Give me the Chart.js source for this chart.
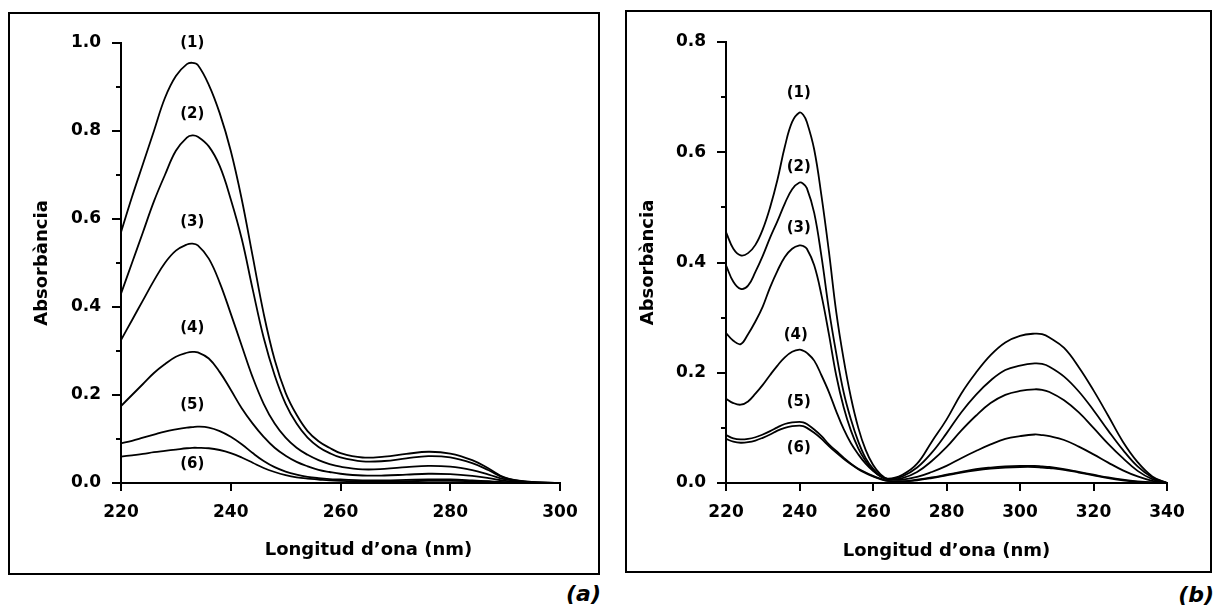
<!DOCTYPE html>
<html>
<head>
<meta charset="utf-8">
<title>Absorbància</title>
<script src="https://cdn.jsdelivr.net/npm/chart.js@4.4.1/dist/chart.umd.min.js"></script>
<style>
    body { margin: 0; background: #fff; width: 1217px; height: 607px; position: relative; overflow: hidden; }
    .panel { position: absolute; box-sizing: border-box; border: 2px solid #000; }
    .panel canvas { display: block; }
    .tag { position: absolute; width: 60px; text-align: right; font: italic bold 22px "DejaVu Sans", sans-serif; line-height: 24px; color: #000; }
</style>
</head>
<body>
<div class="panel" style="left:8px;top:12px;width:592px;height:563px"><canvas id="chartA" width="588" height="559"></canvas></div>
<div class="tag" style="left:541px;top:582px">(a)</div>
<div class="panel" style="left:625px;top:10px;width:587px;height:563px"><canvas id="chartB" width="583" height="559"></canvas></div>
<div class="tag" style="left:1154px;top:583px">(b)</div>

<script>
// Spectrum (a): wavelength grid in nm and absorbance of each curve
const nmA = [220, 222, 224, 226, 228, 230, 232, 233, 234, 236, 238, 240, 242, 244, 246, 248, 250, 252, 254, 256, 258, 260, 264, 268, 272, 276, 280, 284, 287, 290, 294, 300];
const a1 = [0.57, 0.65, 0.725, 0.80, 0.875, 0.925, 0.952, 0.955, 0.95, 0.905, 0.84, 0.755, 0.645, 0.515, 0.385, 0.28, 0.205, 0.155, 0.118, 0.095, 0.08, 0.068, 0.058, 0.06, 0.066, 0.071, 0.067, 0.052, 0.033, 0.012, 0.003, 0];
const a2 = [0.43, 0.50, 0.57, 0.64, 0.70, 0.755, 0.785, 0.79, 0.787, 0.765, 0.72, 0.645, 0.555, 0.44, 0.33, 0.245, 0.18, 0.135, 0.103, 0.082, 0.068, 0.058, 0.049, 0.05, 0.056, 0.061, 0.058, 0.045, 0.029, 0.011, 0.003, 0];
const a3 = [0.325, 0.37, 0.415, 0.46, 0.50, 0.528, 0.542, 0.544, 0.54, 0.51, 0.455, 0.385, 0.312, 0.24, 0.18, 0.135, 0.103, 0.08, 0.064, 0.052, 0.043, 0.037, 0.031, 0.032, 0.036, 0.039, 0.037, 0.029, 0.019, 0.008, 0.002, 0];
const a4 = [0.175, 0.20, 0.225, 0.25, 0.27, 0.287, 0.296, 0.298, 0.297, 0.283, 0.252, 0.212, 0.17, 0.135, 0.105, 0.08, 0.062, 0.048, 0.038, 0.03, 0.025, 0.021, 0.017, 0.017, 0.019, 0.021, 0.02, 0.016, 0.011, 0.005, 0.001, 0];
const a5 = [0.09, 0.096, 0.103, 0.11, 0.117, 0.122, 0.126, 0.127, 0.128, 0.126, 0.118, 0.105, 0.088, 0.068, 0.05, 0.036, 0.026, 0.019, 0.014, 0.011, 0.009, 0.008, 0.006, 0.006, 0.007, 0.008, 0.008, 0.006, 0.004, 0.002, 0.001, 0];
const a6 = [0.06, 0.063, 0.066, 0.07, 0.073, 0.076, 0.079, 0.08, 0.08, 0.079, 0.075, 0.068, 0.058, 0.046, 0.034, 0.025, 0.018, 0.013, 0.01, 0.008, 0.006, 0.005, 0.004, 0.004, 0.004, 0.005, 0.005, 0.004, 0.003, 0.001, 0, 0];

// Spectrum (b)
const nmB = [220, 222, 224, 226, 228, 230, 232, 234, 236, 238, 240, 241, 242, 244, 246, 248, 250, 252, 254, 256, 258, 260, 262, 264, 268, 272, 276, 280, 284, 288, 292, 296, 300, 304, 306, 308, 312, 316, 320, 324, 328, 332, 336, 340];
const b1 = [0.455, 0.425, 0.413, 0.417, 0.432, 0.46, 0.50, 0.55, 0.61, 0.655, 0.672, 0.668, 0.655, 0.605, 0.52, 0.42, 0.31, 0.225, 0.155, 0.1, 0.06, 0.033, 0.016, 0.008, 0.015, 0.035, 0.075, 0.115, 0.162, 0.2, 0.232, 0.255, 0.267, 0.271, 0.27, 0.264, 0.245, 0.21, 0.168, 0.122, 0.075, 0.038, 0.012, 0];
const b2 = [0.395, 0.365, 0.352, 0.358, 0.383, 0.412, 0.445, 0.475, 0.507, 0.533, 0.545, 0.543, 0.535, 0.49, 0.41, 0.315, 0.235, 0.165, 0.115, 0.075, 0.045, 0.026, 0.013, 0.007, 0.012, 0.028, 0.055, 0.09, 0.128, 0.16, 0.186, 0.205, 0.213, 0.217, 0.216, 0.211, 0.193, 0.166, 0.132, 0.095, 0.06, 0.03, 0.01, 0];
const b3 = [0.272, 0.258, 0.252, 0.27, 0.293, 0.32, 0.355, 0.385, 0.41, 0.425, 0.431, 0.43, 0.425, 0.395, 0.34, 0.27, 0.195, 0.138, 0.095, 0.063, 0.04, 0.023, 0.012, 0.007, 0.009, 0.02, 0.04, 0.065, 0.095, 0.122, 0.145, 0.16, 0.167, 0.17, 0.169, 0.165, 0.15, 0.128, 0.1, 0.071, 0.045, 0.022, 0.007, 0];
const b4 = [0.153, 0.145, 0.142, 0.148, 0.162, 0.178, 0.196, 0.213, 0.228, 0.238, 0.242, 0.24, 0.236, 0.222, 0.195, 0.165, 0.13, 0.098, 0.072, 0.052, 0.035, 0.022, 0.013, 0.007, 0.006, 0.011, 0.02, 0.031, 0.045, 0.058, 0.07, 0.08, 0.085, 0.088, 0.087, 0.085, 0.078, 0.066, 0.052, 0.037, 0.023, 0.012, 0.004, 0];
const b5 = [0.087, 0.081, 0.079, 0.08, 0.083, 0.088, 0.094, 0.101, 0.107, 0.11, 0.111, 0.11, 0.107, 0.097, 0.085, 0.07, 0.058, 0.046, 0.035, 0.026, 0.019, 0.013, 0.008, 0.004, 0.003, 0.006, 0.01, 0.015, 0.02, 0.025, 0.028, 0.03, 0.031, 0.031, 0.03, 0.029, 0.025, 0.02, 0.015, 0.01, 0.006, 0.003, 0.001, 0];
const b6 = [0.08, 0.075, 0.073, 0.074, 0.077, 0.082, 0.088, 0.095, 0.1, 0.103, 0.104, 0.103, 0.1, 0.091, 0.08, 0.067, 0.055, 0.044, 0.034, 0.025, 0.018, 0.012, 0.007, 0.004, 0.003, 0.005, 0.009, 0.014, 0.019, 0.023, 0.026, 0.028, 0.029, 0.029, 0.028, 0.027, 0.024, 0.019, 0.014, 0.009, 0.005, 0.002, 0.001, 0];

// Curve numbers and where they sit (nm, absorbance)
const curveTags = ['(1)', '(2)', '(3)', '(4)', '(5)', '(6)'];
const tagNmA = [233, 233, 233, 233, 233, 233];
const tagAbsA = [1.0, 0.838, 0.593, 0.353, 0.178, 0.043];
const tagNmB = [239.8, 239.8, 239.8, 239.0, 239.8, 239.8];
const tagAbsB = [0.708, 0.573, 0.463, 0.268, 0.147, 0.063];

// Axis ranges and ticks
const xTicksA = { min: 220, max: 300, step: 20 };
const xTicksB = { min: 220, max: 340, step: 20 };
const yTicksA = { min: 0, max: 1.0, step: 0.2 };
const yTicksB = { min: 0, max: 0.8, step: 0.2 };
const minorA = [0.1, 0.3, 0.5, 0.7, 0.9];
const minorB = [0.1, 0.3, 0.5, 0.7];

const yTitle = 'Absorbància';
const xTitle = 'Longitud d\u2019ona (nm)';

const INK = '#000';
const tickFont = { family: '"DejaVu Sans", sans-serif', size: 17, weight: 'bold' };

// short unlabelled ticks between the labelled ones on the y axis
const minorTickPlugin = {
    id: 'minorTicks',
    afterDraw(chart, args, opts) {
        const y = chart.scales.y;
        const ctx = chart.ctx;
        ctx.save();
        ctx.strokeStyle = INK;
        ctx.lineWidth = 2;
        opts.values.forEach(v => {
            const py = Math.round(y.getPixelForValue(v));
            ctx.beginPath();
            ctx.moveTo(y.right - 5, py);
            ctx.lineTo(y.right, py);
            ctx.stroke();
        });
        ctx.restore();
    }
};

// x axis caption, drawn so it can be shifted sideways
const captionPlugin = {
    id: 'caption',
    afterDraw(chart, args, opts) {
        const { ctx, chartArea } = chart;
        ctx.save();
        ctx.font = 'bold 18px "DejaVu Sans", sans-serif';
        ctx.fillStyle = INK;
        ctx.textAlign = 'center';
        ctx.textBaseline = 'middle';
        ctx.fillText(opts.text, (chartArea.left + chartArea.right) / 2 + opts.shift, chartArea.bottom + opts.drop);
        ctx.restore();
    }
};

// (1)...(6) next to the curves
const curveTagPlugin = {
    id: 'curveTags',
    afterDatasetsDraw(chart, args, opts) {
        const { ctx, scales } = chart;
        ctx.save();
        ctx.font = 'bold 15px "DejaVu Sans", sans-serif';
        ctx.fillStyle = INK;
        ctx.textAlign = 'center';
        ctx.textBaseline = 'middle';
        curveTags.forEach((t, i) => {
            ctx.fillText(t, scales.x.getPixelForValue(opts.nm[i]), scales.y.getPixelForValue(opts.abs[i]));
        });
        ctx.restore();
    }
};

function buildSeries(nm, curves) {
    return curves.map((vals, i) => ({
        label: curveTags[i],
        data: vals.map((v, k) => ({ x: nm[k], y: v })),
        borderColor: INK,
        borderWidth: 1.8,
        pointRadius: 0,
        tension: 0.4,
        fill: false
    }));
}

function makeChart(id, nm, curves, xr, yr, layout) {
    const ctx = document.getElementById(id).getContext('2d');
    return new Chart(ctx, {
        type: 'line',
        data: { datasets: buildSeries(nm, curves) },
        options: {
            responsive: false,
            animation: false,
            events: [],
            layout: { padding: { top: layout.top, right: layout.right, left: 0, bottom: 0 } },
            plugins: {
                legend: { display: false },
                tooltip: { enabled: false },
                minorTicks: { values: layout.minor },
                caption: { text: xTitle, shift: layout.captionShift, drop: layout.captionDrop },
                curveTags: { nm: layout.tagNm, abs: layout.tagAbs }
            },
            scales: {
                x: {
                    type: 'linear',
                    min: xr.min,
                    max: xr.max,
                    afterFit: s => { s.height = layout.xHeight; },
                    border: { display: true, color: INK, width: 2 },
                    grid: { drawOnChartArea: false, drawTicks: true, tickLength: 8, color: INK, lineWidth: 2 },
                    ticks: { stepSize: xr.step, color: INK, font: tickFont, padding: 11, maxRotation: 0 }
                },
                y: {
                    type: 'linear',
                    min: yr.min,
                    max: yr.max,
                    afterFit: s => { s.width = layout.yWidth; },
                    border: { display: true, color: INK, width: 2 },
                    grid: { drawOnChartArea: false, drawTicks: true, tickLength: 9, color: INK, lineWidth: 2 },
                    ticks: { stepSize: yr.step, color: INK, font: tickFont, padding: 11, callback: v => v.toFixed(1) },
                    title: {
                        display: true,
                        text: yTitle,
                        color: INK,
                        font: { family: '"DejaVu Sans", sans-serif', size: 18, weight: 'bold' },
                        padding: { top: layout.titlePad, bottom: 0 }
                    }
                }
            }
        },
        plugins: [minorTickPlugin, captionPlugin, curveTagPlugin]
    });
}

makeChart('chartA', nmA, [a1, a2, a3, a4, a5, a6], xTicksA, yTicksA, {
    top: 29, right: 38, xHeight: 90, yWidth: 111, titlePad: 22,
    minor: minorA, captionShift: 28, captionDrop: 67, tagNm: tagNmA, tagAbs: tagAbsA
});

makeChart('chartB', nmB, [b1, b2, b3, b4, b5, b6], xTicksB, yTicksB, {
    top: 30, right: 43, xHeight: 88, yWidth: 99, titlePad: 11,
    minor: minorB, captionShift: 0, captionDrop: 68, tagNm: tagNmB, tagAbs: tagAbsB
});
</script>
</body>
</html>
